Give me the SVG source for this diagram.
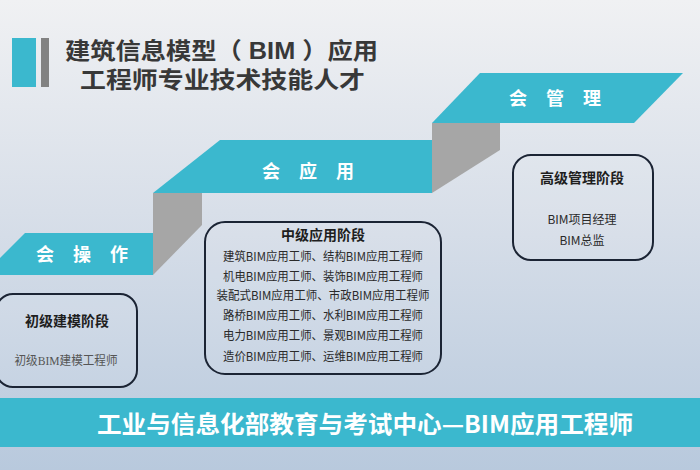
<svg xmlns="http://www.w3.org/2000/svg" width="700" height="470" viewBox="0 0 700 470">
<defs>
<linearGradient id="bg" x1="0" y1="0" x2="0" y2="1">
<stop offset="0" stop-color="#f0f1f3"/>
<stop offset="0.45" stop-color="#d8dfe9"/>
<stop offset="1" stop-color="#b8c9dd"/>
</linearGradient>
<style>
.teal{fill:#3bb8ce}
.gray{fill:#a6a6a6}
.step{font-family:"Noto Sans CJK SC","Noto Sans",sans-serif;font-weight:bold;font-size:18px;fill:#ffffff;text-anchor:middle}
.title{font-family:"Liberation Sans","Noto Sans CJK SC",sans-serif;font-weight:bold;font-size:23px;fill:#383838}
.box{fill:#ffffff;fill-opacity:0.08;stroke:#1b2434;stroke-width:2}
.bt{font-family:"Noto Sans CJK SC","Noto Sans",sans-serif;font-weight:bold;font-size:14px;fill:#1e1e1e;text-anchor:middle}
.bl{font-family:"Noto Sans CJK SC","Noto Sans",sans-serif;font-size:12px;fill:#2a2a2a;text-anchor:middle}
.bs{font-family:"Liberation Serif","Noto Sans CJK SC",serif;font-size:12.5px;fill:#555555;text-anchor:middle}
.foot{font-family:"Noto Sans CJK SC","Noto Sans",sans-serif;font-weight:bold;font-size:24px;fill:#ffffff;text-anchor:middle}
</style>
</defs>
<rect x="0" y="0" width="700" height="470" fill="url(#bg)"/>

<g id="heading">
<rect x="12" y="38" width="24" height="49" class="teal"/>
<rect x="41" y="38" width="8" height="49" fill="#828282"/>
<text class="title" x="65" y="59" textLength="313" lengthAdjust="spacingAndGlyphs">建筑信息模型（ BIM ）应用</text>
<text class="title" x="80" y="88" textLength="285" lengthAdjust="spacingAndGlyphs">工程师专业技术技能人才</text>
</g>

<g id="connectors">
<polygon class="gray" points="432,123 500,123 500,150 432,193"/>
<polygon class="gray" points="153,193 202,193 202,225 153,275"/>
</g>

<g id="step-operate">
<polygon class="teal" points="25,233 153,233 153,275 0,275 0,258"/>
<text class="step" x="45 82 119" y="261">会操作</text>
</g>

<g id="step-apply">
<polygon class="teal" points="220,140 432,140 432,193 153,193"/>
<text class="step" x="271 308 345" y="178">会应用</text>
</g>

<g id="step-manage">
<polygon class="teal" points="480,73 683,73 634,123 432,123"/>
<text class="step" x="518 555 592" y="105">会管理</text>
</g>

<g id="box-junior">
<rect class="box" x="-4" y="294" width="141" height="93" rx="17"/>
<text class="bt" x="67" y="326">初级建模阶段</text>
<text class="bs" x="66" y="365" textLength="103" lengthAdjust="spacingAndGlyphs">初级BIM建模工程师</text>
</g>

<g id="box-middle">
<rect class="box" x="205" y="222" width="236" height="152" rx="20"/>
<text class="bt" x="323" y="240">中级应用阶段</text>
<text class="bl" x="323" y="261" textLength="200" lengthAdjust="spacingAndGlyphs">建筑BIM应用工师、结构BIM应用工程师</text>
<text class="bl" x="323" y="281" textLength="200" lengthAdjust="spacingAndGlyphs">机电BIM应用工师、装饰BIM应用工程师</text>
<text class="bl" x="323" y="300" textLength="213" lengthAdjust="spacingAndGlyphs">装配式BIM应用工师、市政BIM应用工程师</text>
<text class="bl" x="323" y="320" textLength="200" lengthAdjust="spacingAndGlyphs">路桥BIM应用工师、水利BIM应用工程师</text>
<text class="bl" x="323" y="340" textLength="200" lengthAdjust="spacingAndGlyphs">电力BIM应用工师、景观BIM应用工程师</text>
<text class="bl" x="323" y="361" textLength="200" lengthAdjust="spacingAndGlyphs">造价BIM应用工师、运维BIM应用工程师</text>
</g>

<g id="box-senior">
<rect class="box" x="513" y="155" width="140" height="105" rx="18"/>
<text class="bt" x="582" y="183">高级管理阶段</text>
<text class="bl" x="582" y="224" font-size="13">BIM项目经理</text>
<text class="bl" x="582" y="245" font-size="13">BIM总监</text>
</g>

<g id="footer">
<rect x="0" y="398" width="700" height="49" class="teal"/>
<text class="foot" x="365" y="433" textLength="536" lengthAdjust="spacingAndGlyphs">工业与信息化部教育与考试中心—BIM应用工程师</text>
</g>
</svg>
